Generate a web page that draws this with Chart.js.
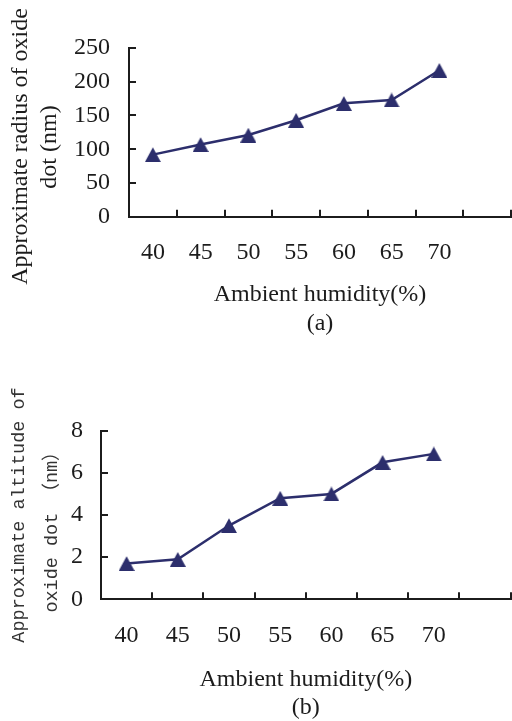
<!DOCTYPE html>
<html><head><meta charset="utf-8">
<script src="https://cdn.jsdelivr.net/npm/chart.js@4/dist/chart.umd.min.js"></script>
<style>
html,body{margin:0;padding:0;background:#fff;}
#wrap{position:relative;width:512px;height:721px;overflow:hidden;background:#fff;}
canvas{position:absolute;left:0;}
#ca{top:0;} #cb{top:345px;}
</style></head><body>
<div id="wrap"><canvas id="ca" width="512" height="345"></canvas><canvas id="cb" width="512" height="376"></canvas></div>
<script>
// ---- data ----
const humidityLabels = ['40', '45', '50', '55', '60', '65', '70', ''];
const radiusValues = [92, 107, 121, 143, 168, 173, 217];
const altitudeValues = [1.7, 1.9, 3.5, 4.8, 5.0, 6.5, 6.9];
const radiusTickValues = [0, 50, 100, 150, 200, 250];
const altitudeTickValues = [0, 2, 4, 6, 8];
const xTitle = 'Ambient humidity(%)';
const captionA = '(a)';
const captionB = '(b)';
const yTitleA = ['Approximate radius of oxide', 'dot (nm)'];
const yTitleB = ['Approximate altitude of', 'oxide dot （nm）'];

// ---- styling ----
const navy = '#2c2e6c';
const axisColor = '#1c1c1c';
const textColor = '#1c1c1c';
const serif = '"Liberation Serif", "Times New Roman", serif';

function triangleMarker() {
  const c = document.createElement('canvas');
  c.width = 16; c.height = 15;
  const g = c.getContext('2d');
  g.fillStyle = navy;
  g.beginPath();
  g.moveTo(8, 0.2); g.lineTo(16, 15); g.lineTo(0, 15); g.closePath();
  g.fill();
  return c;
}
const marker = triangleMarker();

function yTitlePlugin(lines) {
  return {
    id: 'ytitle',
    afterDraw(chart) {
      const ctx = chart.ctx;
      for (const l of lines) {
        ctx.save();
        ctx.translate(l.x, l.y);
        ctx.rotate(-Math.PI / 2);
        ctx.font = l.font;
        ctx.fillStyle = l.color;
        ctx.textAlign = 'center';
        ctx.textBaseline = 'alphabetic';
        ctx.fillText(l.text, 0, 0);
        ctx.restore();
      }
    }
  };
}

function makeChart(id, values, ticks, cfg) {
  const tmin = ticks[0], tmax = ticks[ticks.length - 1], step = ticks[1] - ticks[0];
  return new Chart(document.getElementById(id), {
    type: 'line',
    data: {
      labels: humidityLabels,
      datasets: [{
        data: values,
        borderColor: navy,
        backgroundColor: navy,
        borderWidth: 2.5,
        tension: 0,
        pointStyle: marker,
        pointRadius: 8,
        pointHoverRadius: 8,
        clip: false
      }]
    },
    options: {
      responsive: false,
      animation: false,
      devicePixelRatio: 1,
      layout: { autoPadding: false, padding: { top: cfg.top, left: 0, right: cfg.right, bottom: 0 } },
      plugins: { legend: { display: false }, tooltip: { enabled: false } },
      scales: {
        x: {
          type: 'category',
          offset: true,
          grid: { offset: true, drawOnChartArea: false, drawTicks: true, tickLength: -7, color: axisColor, lineWidth: 2 },
          border: { display: true, color: axisColor, width: 2 },
          ticks: { autoSkip: false, maxRotation: 0, minRotation: 0, padding: 18, color: textColor,
                   font: { family: serif, size: 24, lineHeight: cfg.xLH / 24 } },
          title: {
            display: true,
            text: [xTitle, cfg.caption],
            color: textColor,
            font: { family: serif, size: 24, lineHeight: 28.5 / 24 },
            padding: { top: 0, bottom: cfg.titlePad }
          },
          afterFit: s => {
            s.height = cfg.xHeight; s.paddingLeft = 0; s.paddingRight = 0;
            if (s._margins) { s._margins.left = 0; s._margins.right = 0; }
          }
        },
        y: {
          min: tmin, max: tmax,
          grid: { drawOnChartArea: false, drawTicks: true, tickLength: -7, color: axisColor, lineWidth: 2 },
          border: { display: true, color: axisColor, width: 2 },
          ticks: { stepSize: step, padding: cfg.yPad, color: textColor, font: { family: serif, size: 24 } },
          title: { display: false },
          afterFit: s => { s.width = cfg.yWidth; s.paddingTop = 0; s.paddingBottom = 0; }
        }
      }
    },
    plugins: [yTitlePlugin(cfg.yTitle)]
  });
}

makeChart('ca', radiusValues, radiusTickValues, {
  top: 48, right: 1, xHeight: 345 - 216.7, yWidth: 129, xLH: 49.2, yPad: 26,
  titlePad: 7.3, caption: captionA,
  yTitle: [
    { text: yTitleA[0], x: 27, y: 146.5, font: '24px ' + serif, color: textColor },
    { text: yTitleA[1], x: 55.5, y: 147, font: '24px ' + serif, color: textColor }
  ]
});

makeChart('cb', altitudeValues, altitudeTickValues, {
  top: 85.7, right: 1.4, xHeight: 376 - 254.3, yWidth: 101, xLH: 51, yPad: 25,
  titlePad: -1.2, caption: captionB,
  yTitle: [
    { text: yTitleB[0], x: 23.5, y: 170, font: '18.5px "Liberation Mono", "Noto Sans CJK SC", monospace', color: '#333' },
    { text: yTitleB[1], x: 57, y: 182.5, font: '18.5px "Liberation Mono", "Noto Sans CJK SC", monospace', color: '#333' }
  ]
});
</script>
</body></html>
